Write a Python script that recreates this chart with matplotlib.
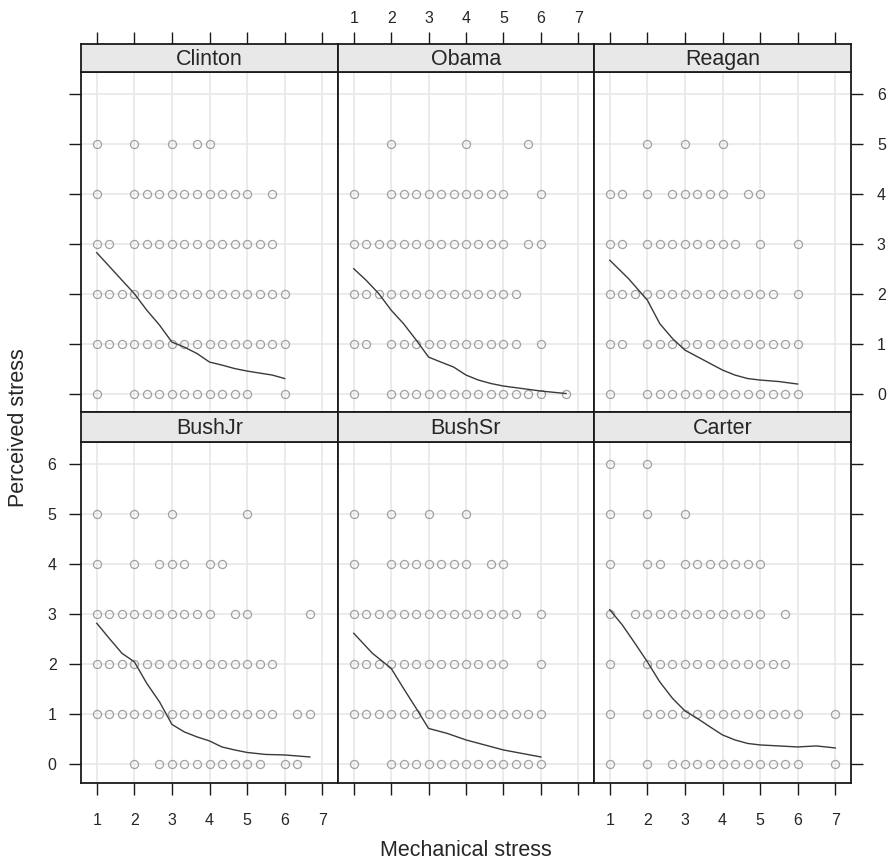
import matplotlib
matplotlib.use("Agg")
import matplotlib.pyplot as plt

plt.rcParams['font.family'] = ['Liberation Sans', 'DejaVu Sans']

# Panel names (layout order: top row then bottom row)
panels = ["Clinton", "Obama", "Reagan", "BushJr", "BushSr", "Carter"]

# Points: for each panel, for perceived stress 0..6, list of mechanical-stress
# positions given as steps of 1/3 above 1 (x = 1 + step/3)
points = {
    "Clinton": [
        [0, 3, 4, 5, 6, 7, 8, 9, 10, 11, 12, 15],
        [0, 1, 2, 3, 4, 5, 6, 7, 8, 9, 10, 11, 12, 13, 14, 15],
        [0, 1, 2, 3, 4, 5, 6, 7, 8, 9, 10, 11, 12, 13, 14, 15],
        [0, 1, 3, 4, 5, 6, 7, 8, 9, 10, 11, 12, 13, 14],
        [0, 3, 4, 5, 6, 7, 8, 9, 10, 11, 12, 14],
        [0, 3, 6, 8, 9],
        [],
    ],
    "Obama": [
        [0, 3, 4, 5, 6, 7, 8, 9, 10, 11, 12, 13, 14, 15, 17],
        [0, 1, 3, 4, 5, 6, 7, 8, 9, 10, 11, 12, 13, 15],
        [0, 1, 2, 3, 4, 5, 6, 7, 8, 9, 10, 11, 12, 13],
        [0, 1, 2, 3, 4, 5, 6, 7, 8, 9, 10, 11, 12, 14, 15],
        [0, 3, 4, 5, 6, 7, 8, 9, 10, 11, 12, 15],
        [3, 9, 14],
        [],
    ],
    "Reagan": [
        [0, 3, 4, 5, 6, 7, 8, 9, 10, 11, 12, 13, 14, 15],
        [0, 1, 3, 4, 5, 6, 7, 8, 9, 10, 11, 12, 13, 14, 15],
        [0, 1, 2, 3, 4, 5, 6, 7, 8, 9, 10, 11, 12, 13, 15],
        [0, 1, 3, 4, 5, 6, 7, 8, 9, 10, 12, 15],
        [0, 1, 3, 5, 6, 7, 8, 9, 11, 12],
        [3, 6, 9],
        [],
    ],
    "BushJr": [
        [3, 5, 6, 7, 8, 9, 10, 11, 12, 13, 15, 16],
        [0, 1, 2, 3, 4, 5, 6, 7, 8, 9, 10, 11, 12, 13, 14, 16, 17],
        [0, 1, 2, 3, 4, 5, 6, 7, 8, 9, 10, 11, 12, 13, 14],
        [0, 1, 2, 3, 4, 5, 6, 7, 8, 9, 11, 12, 17],
        [0, 3, 5, 6, 7, 9, 10],
        [0, 3, 6, 12],
        [],
    ],
    "BushSr": [
        [0, 3, 4, 5, 6, 7, 8, 9, 10, 11, 12, 13, 14, 15],
        [0, 1, 2, 3, 4, 5, 6, 7, 8, 9, 10, 11, 12, 13, 14, 15],
        [0, 1, 2, 3, 4, 5, 6, 7, 8, 9, 10, 11, 12, 15],
        [0, 1, 2, 3, 4, 5, 6, 7, 8, 9, 10, 11, 12, 13, 15],
        [0, 3, 4, 5, 6, 7, 8, 9, 11, 12],
        [0, 3, 6, 9],
        [],
    ],
    "Carter": [
        [0, 3, 5, 6, 7, 8, 9, 10, 11, 12, 13, 14, 15, 18],
        [0, 3, 4, 5, 6, 7, 8, 9, 10, 11, 12, 13, 14, 15, 18],
        [0, 3, 4, 5, 6, 7, 8, 9, 10, 11, 12, 13, 14],
        [0, 2, 3, 4, 5, 6, 7, 8, 9, 10, 11, 12, 14],
        [0, 3, 4, 6, 7, 8, 9, 10, 11, 12],
        [0, 3, 6],
        [0, 3],
    ],
}

# Smooth curves (x, y)
curve_x = {
    "Clinton": [1, 1.33, 1.67, 2, 2.33, 2.67, 3, 3.33, 3.67, 4, 4.33, 4.67, 5, 5.33, 5.67, 6],
    "Obama":   [1, 1.33, 1.67, 2, 2.33, 2.67, 3, 3.33, 3.67, 4, 4.33, 4.67, 5, 5.5, 6, 6.67],
    "Reagan":  [1, 1.5, 2, 2.33, 2.67, 3, 3.5, 4, 4.33, 4.67, 5, 5.5, 6],
    "BushJr":  [1, 1.33, 1.67, 2, 2.33, 2.67, 3, 3.33, 3.67, 4, 4.33, 4.67, 5, 5.5, 6, 6.67],
    "BushSr":  [1, 1.5, 2, 2.33, 2.67, 3, 3.5, 4, 4.5, 5, 5.5, 6],
    "Carter":  [1, 1.33, 1.67, 2, 2.33, 2.67, 3, 3.33, 3.67, 4, 4.33, 4.67, 5, 5.5, 6, 6.5, 7],
}
curve_y = {
    "Clinton": [2.82, 2.55, 2.27, 2.0, 1.67, 1.37, 1.03, 0.93, 0.8, 0.63, 0.57, 0.5, 0.45, 0.41, 0.37, 0.3],
    "Obama":   [2.5, 2.27, 2.0, 1.67, 1.4, 1.07, 0.73, 0.63, 0.53, 0.37, 0.27, 0.2, 0.15, 0.1, 0.05, 0.0],
    "Reagan":  [2.67, 2.3, 1.87, 1.4, 1.1, 0.87, 0.67, 0.47, 0.37, 0.3, 0.27, 0.24, 0.19],
    "BushJr":  [2.82, 2.52, 2.22, 2.05, 1.62, 1.25, 0.8, 0.65, 0.55, 0.47, 0.35, 0.29, 0.24, 0.2, 0.19, 0.15],
    "BushSr":  [2.62, 2.22, 1.92, 1.52, 1.12, 0.72, 0.62, 0.49, 0.39, 0.29, 0.22, 0.15],
    "Carter":  [3.09, 2.79, 2.42, 2.05, 1.65, 1.32, 1.07, 0.92, 0.75, 0.59, 0.49, 0.42, 0.39, 0.37, 0.35, 0.37, 0.33],
}

x_ticks = [1, 2, 3, 4, 5, 6, 7]
y_ticks = [0, 1, 2, 3, 4, 5, 6]
x_label = "Mechanical stress"
y_label = "Perceived stress"

W, H = 888, 866
fig = plt.figure(figsize=(W / 100, H / 100), dpi=100)

col_edges = [81, 338, 594, 851]
rows = [  # (strip_top, strip_bottom, panel_bottom)
    (44, 72, 412),
    (412, 442, 783),
]

XLIM = (0.58, 7.42)
YLIM = (-0.37, 6.44)
PT = 0.72  # points per pixel
tick_len = 12 * PT
tick_w = 1.0
border_c = "#1a1a1a"
text_c = "#262626"


def fig_rect(x0, y0, x1, y1):
    return [x0 / W, 1 - y1 / H, (x1 - x0) / W, (y1 - y0) / H]


for idx, name in enumerate(panels):
    r, c = divmod(idx, 3)
    s_top, s_bot, p_bot = rows[r]
    x0, x1 = col_edges[c], col_edges[c + 1]

    ax = fig.add_axes(fig_rect(x0, s_bot, x1, p_bot))
    ax.set_xlim(*XLIM)
    ax.set_ylim(*YLIM)
    for sp in ax.spines.values():
        sp.set_color(border_c)
        sp.set_linewidth(1.3)
    ax.set_xticks(x_ticks)
    ax.set_yticks(y_ticks)
    ax.grid(True, color="#e6e6e6", linewidth=1.1)
    ax.set_axisbelow(True)

    for yv, steps in enumerate(points[name]):
        xs = [1 + s / 3 for s in steps]
        ax.plot(xs, [yv] * len(xs), linestyle="none", marker="o", ms=5.8,
                mfc="none", mec="#a0a0a0", mew=0.9, zorder=3)
    ax.plot(curve_x[name], curve_y[name], color="#3a3a3a", lw=1.0, zorder=4)

    bottom_on = (r == 1)
    ax.tick_params(axis="x", which="both", direction="out", length=tick_len,
                   width=tick_w, color=border_c, bottom=bottom_on, top=False,
                   labelbottom=bottom_on and c in (0, 2), labeltop=False,
                   pad=13, labelsize=11.5, labelcolor=text_c)
    left_on = (c == 0)
    right_on = (c == 2)
    ax.tick_params(axis="y", which="both", direction="out", length=tick_len,
                   width=tick_w, color=border_c, left=left_on, right=right_on,
                   labelleft=left_on and r == 1, labelright=right_on and r == 0,
                   pad=10 if right_on else 9, labelsize=11.5, labelcolor=text_c)

    # strip
    sax = fig.add_axes(fig_rect(x0, s_top, x1, s_bot))
    sax.set_facecolor("#e8e8e8")
    sax.set_xlim(*XLIM)
    sax.set_ylim(0, 1)
    for sp in sax.spines.values():
        sp.set_color(border_c)
        sp.set_linewidth(1.3)
    sax.set_yticks([])
    sax.text(0.5, 0.45, name, transform=sax.transAxes, ha="center", va="center",
             fontsize=15.5, color=text_c)
    if r == 0:
        sax.set_xticks(x_ticks)
        sax.tick_params(axis="x", direction="out", length=tick_len, width=tick_w,
                        color=border_c, bottom=False, top=True,
                        labelbottom=False, labeltop=(c == 1), pad=4.5,
                        labelsize=11.5, labelcolor=text_c)
    else:
        sax.set_xticks([])

fig.text((col_edges[0] + col_edges[-1]) / 2 / W, 1 - 850 / H, x_label,
         ha="center", va="center", fontsize=15.5, color=text_c)
fig.text(18 / W, 1 - 428 / H, y_label, ha="center", va="center",
         rotation=90, fontsize=15.5, color=text_c)

fig.savefig("out.png", dpi=100)
